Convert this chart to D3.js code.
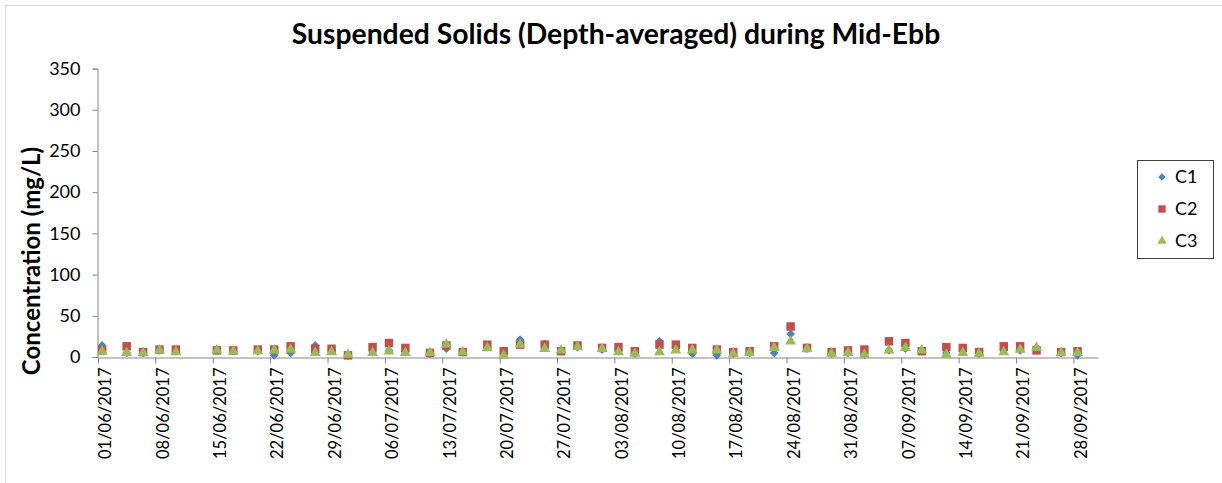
<!DOCTYPE html>
<html>
<head>
<meta charset="utf-8">
<script src="https://cdn.jsdelivr.net/npm/d3@7"></script>
<style>
  body { margin: 0; background: #fff; }
  text { font-family: Lato, "Open Sans", sans-serif; fill: #000; }
</style>
</head>
<body>
<div id="chart"></div>
<script>
// Sampling dates and depth-averaged SS (mg/L) per station
const dates = ["2017-06-01","2017-06-04","2017-06-06","2017-06-08","2017-06-10","2017-06-15","2017-06-17","2017-06-20","2017-06-22","2017-06-24","2017-06-27","2017-06-29","2017-07-01","2017-07-04","2017-07-06","2017-07-08","2017-07-11","2017-07-13","2017-07-15","2017-07-18","2017-07-20","2017-07-22","2017-07-25","2017-07-27","2017-07-29","2017-08-01","2017-08-03","2017-08-05","2017-08-08","2017-08-10","2017-08-12","2017-08-15","2017-08-17","2017-08-19","2017-08-22","2017-08-24","2017-08-26","2017-08-29","2017-08-31","2017-09-02","2017-09-05","2017-09-07","2017-09-09","2017-09-12","2017-09-14","2017-09-16","2017-09-19","2017-09-21","2017-09-23","2017-09-26","2017-09-28"];
const c1 = [14,5,5,8,7,8,7,7,2,5,14,8,2,6,8,6,4,10,6,12,4,21,16,7,12,9,7,4,19,12,4,2,4,5,5,28,10,4,5,3,8,10,7,5,7,4,8,8,9,5,2];
const c2 = [8,13,6,9,9,8,8,9,9,13,10,10,2,12,17,11,5,14,6,15,7,15,15,7,14,11,12,7,15,15,11,9,6,7,13,37,11,6,8,9,19,17,7,12,11,6,13,13,8,6,7];
const c3 = [7,5,5,8,6,8,7,7,8,9,5,6,3,5,7,5,5,15,6,11,2,15,10,8,12,10,6,4,6,8,8,8,4,5,11,19,10,4,5,3,8,11,8,3,5,4,6,9,11,5,5];
const yTicks = [0,50,100,150,200,250,300,350];

const parse = d3.utcParse("%Y-%m-%d");
const fmt = d3.utcFormat("%d/%m/%Y");

// diamond = square turned 45deg, as Excel draws it
const series = [
  { name: "C1", values: c1, color: "#4F81BD", shape: d3.symbolSquare, size: 38, rot: 45 },
  { name: "C2", values: c2, color: "#C0504D", shape: d3.symbolSquare, size: 72, rot: 0 },
  { name: "C3", values: c3, color: "#9BBB59", shape: d3.symbolTriangle, size: 52, rot: 0 }
];

const W = 1222, H = 483;
const svg = d3.select("#chart").append("svg").attr("width", W).attr("height", H);

svg.append("rect")
  .attr("x", 5.5).attr("y", 5.5).attr("width", 1240).attr("height", 500)
  .attr("fill", "#fff").attr("stroke", "#d9d9d9");

const x = d3.scaleUtc()
  .domain([parse("2017-06-01"), parse("2017-10-01")])
  .range([98, 1098]);
const y = d3.scaleLinear().domain([0, 350]).range([357, 68.6]);

// one tick a week from 1 June
const weekly = d3.range(0, 18).map(i => d3.utcDay.offset(parse("2017-06-01"), i * 7));

// title
svg.append("text")
  .attr("x", 616).attr("y", 44)
  .attr("text-anchor", "middle")
  .style("font-size", "28.3px").style("font-weight", "bold")
  .text("Suspended Solids (Depth-averaged) during Mid-Ebb");

// y axis
const yAxis = svg.append("g")
  .attr("transform", "translate(97.5,0)")
  .call(d3.axisLeft(y).tickValues(yTicks).tickSize(5).tickPadding(12));
yAxis.select(".domain").attr("stroke", "#868686");
yAxis.selectAll(".tick line").attr("stroke", "#868686");
yAxis.selectAll(".tick text").style("font-size", "18px").attr("fill", "#000");

svg.append("text")
  .attr("transform", "translate(40,261) rotate(-90)")
  .attr("text-anchor", "middle")
  .style("font-size", "24px").style("font-weight", "bold")
  .text("Concentration (mg/L)");

// x axis
const xAxis = svg.append("g")
  .attr("transform", "translate(0,357.5)")
  .call(d3.axisBottom(x).tickValues(weekly).tickFormat(fmt).tickSize(6).tickSizeOuter(0));
xAxis.select(".domain").attr("stroke", "#868686");
xAxis.selectAll(".tick line").attr("stroke", "#868686");
xAxis.selectAll(".tick text")
  .style("font-size", "16.5px")
  .attr("text-anchor", "end")
  .attr("transform", "rotate(-90)")
  .attr("x", -10).attr("y", 7).attr("dy", "0.35em");

// markers
const half = 12 * 3600 * 1000;
series.forEach(s => {
  svg.append("g").selectAll("path")
    .data(s.values.map((v, i) => ({ date: parse(dates[i]), v })))
    .join("path")
    .attr("transform", d => `translate(${x(new Date(+d.date + half))},${y(d.v)}) rotate(${s.rot})`)
    .attr("d", d3.symbol().type(s.shape).size(s.size))
    .attr("fill", s.color);
});

// legend
const lg = svg.append("g");
lg.append("rect")
  .attr("x", 1137.5).attr("y", 160.5).attr("width", 76).attr("height", 98)
  .attr("fill", "#fff").attr("stroke", "#404040");
series.forEach((s, i) => {
  const ly = 177 + i * 32;
  lg.append("path")
    .attr("transform", `translate(1162,${ly}) rotate(${s.rot})`)
    .attr("d", d3.symbol().type(s.shape).size(s.size * 0.75))
    .attr("fill", s.color);
  lg.append("text")
    .attr("x", 1175).attr("y", ly).attr("dy", "0.35em")
    .style("font-size", "18px")
    .text(s.name);
});
</script>
</body>
</html>
